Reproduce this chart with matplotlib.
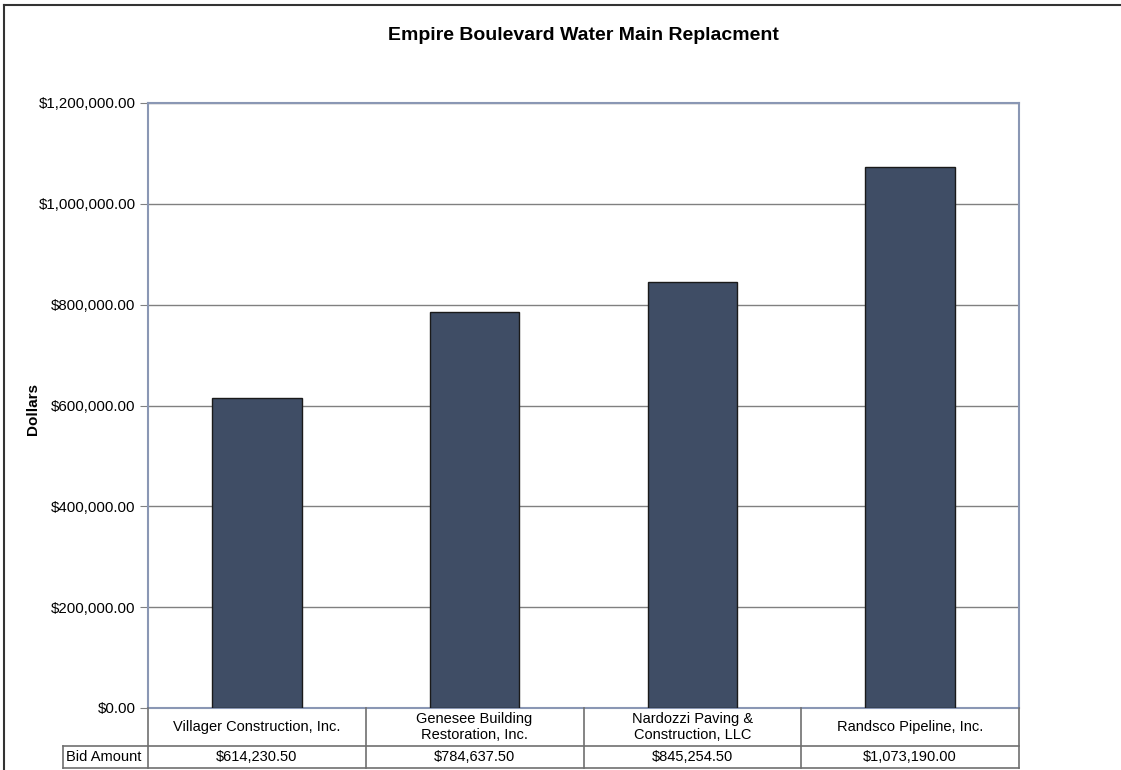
import matplotlib.pyplot as plt
from matplotlib.lines import Line2D
from matplotlib.ticker import FuncFormatter

plt.rcParams['font.family'] = ['Liberation Sans', 'DejaVu Sans']

contractors = ['Villager Construction, Inc.', 'Genesee Building\nRestoration, Inc.',
               'Nardozzi Paving &\nConstruction, LLC', 'Randsco Pipeline, Inc.']
bids = [614230.50, 784637.50, 845254.50, 1073190.00]
bid_labels = ['$614,230.50', '$784,637.50', '$845,254.50', '$1,073,190.00']
yticks = [0, 200000, 400000, 600000, 800000, 1000000, 1200000]

W, H = 1121, 770
fig = plt.figure(figsize=(W / 100, H / 100), dpi=100)
L, R, T, B = 148, 1019, 103, 708
ax = fig.add_axes([L / W, 1 - B / H, (R - L) / W, (B - T) / H])

x = range(len(bids))
ax.bar(x, bids, width=0.41, color='#3f4d65', edgecolor='#1a1a1a', linewidth=1, zorder=3)
ax.set_xlim(-0.5, len(bids) - 0.5)
ax.set_ylim(0, 1200000)
ax.set_yticks(yticks)
ax.yaxis.set_major_formatter(FuncFormatter(lambda v, p: '${:,.2f}'.format(v)))
ax.tick_params(axis='y', labelsize=10.8, length=6, color='#808080', pad=3)
ax.set_xticks([])
ax.grid(axis='y', color='#808080', linewidth=1, zorder=0)
for s in ax.spines.values():
    s.set_color('#8a97b4')
    s.set_linewidth(1.5)

def fx(px):
    return px / W

def fy(py):
    return 1 - py / H

fig.text(fx(33), fy(409), 'Dollars', rotation=90, ha='center', va='center',
         fontsize=11, fontweight='bold')
fig.text(fx(583), fy(36), 'Empire Boulevard Water Main Replacment',
         ha='center', va='center', fontsize=14, fontweight='bold')

# data table under the chart, drawn in pixel units
def hline(x0, x1, y):
    fig.add_artist(Line2D([fx(x0), fx(x1)], [fy(y), fy(y)], color='#707070', linewidth=1.2))

def vline(xp, y0, y1):
    fig.add_artist(Line2D([fx(xp), fx(xp)], [fy(y0), fy(y1)], color='#707070', linewidth=1.2))

row1, row2, row3 = 708, 746, 768
lab_left = 63
colw = (R - L) / len(contractors)
hline(lab_left, R, row2)
hline(lab_left, R, row3)
vline(lab_left, row2, row3)
for i in range(len(contractors) + 1):
    vline(L + i * colw, row1, row3)
for i, name in enumerate(contractors):
    cx = L + (i + 0.5) * colw
    fig.text(fx(cx), fy((row1 + row2) / 2), name, ha='center', va='center',
             fontsize=10.5, linespacing=1.15)
    fig.text(fx(cx), fy((row2 + row3) / 2), bid_labels[i], ha='center', va='center',
             fontsize=10.5)
fig.text(fx(lab_left + 3), fy((row2 + row3) / 2), 'Bid Amount', ha='left', va='center',
         fontsize=10.5)

# outer frame lines of the picture
fig.add_artist(Line2D([fx(4), fx(4)], [0, fy(5)], color='#333333', linewidth=1.5))
fig.add_artist(Line2D([fx(4), 1], [fy(5), fy(5)], color='#333333', linewidth=1.5))

fig.savefig('out.png', dpi=100)
